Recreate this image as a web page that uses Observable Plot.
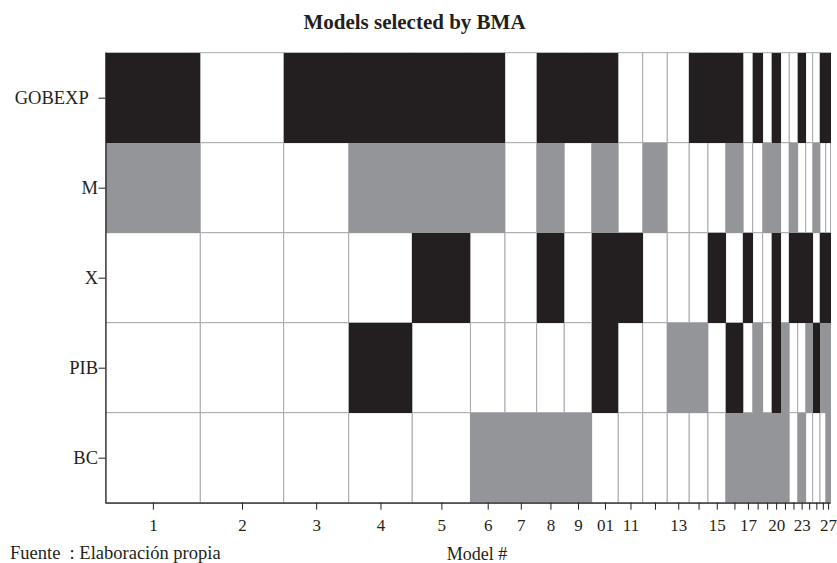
<!DOCTYPE html>
<html>
<head>
<meta charset="utf-8">
<script src="https://cdn.jsdelivr.net/npm/d3@7"></script>
<script src="https://cdn.jsdelivr.net/npm/@observablehq/plot@0.6"></script>
<style>
  html, body { margin: 0; padding: 0; background: #fff; }
  #chart { width: 837px; height: 563px; overflow: hidden; position: relative; }
</style>
</head>
<body>
<div id="chart"></div>
<script>
// Variables (rows, top to bottom)
const variables = ["GOBEXP", "M", "X", "PIB", "BC"];

// Posterior model probabilities (column widths), models 1..27
const pmp = [0.1308, 0.1150, 0.0897, 0.0877, 0.0803, 0.0476, 0.0437, 0.0381, 0.0378,
             0.0367, 0.0337, 0.0339, 0.0303, 0.0258, 0.0244, 0.0243, 0.0130, 0.0138,
             0.0124, 0.0124, 0.0119, 0.0116, 0.0110, 0.0097, 0.0101, 0.0079, 0.0066];

// Coefficient sign per model: 1 = positive, -1 = negative, 0 = not included
const signGOBEXP = [1,0,1,1,1,1,0,1,1,1,0,0,0,1,1,1,0,1,0,1,0,0,1,0,0,1,1];
const signM      = [-1,0,0,-1,-1,-1,0,-1,0,-1,0,-1,0,0,0,-1,0,0,-1,-1,0,-1,0,0,-1,0,0];
const signX      = [0,0,0,0,1,0,0,1,0,1,1,0,0,0,1,0,1,0,0,1,0,1,1,1,0,1,1];
const signPIB    = [0,0,0,1,0,0,0,0,0,1,0,0,-1,-1,0,1,0,-1,0,1,-1,0,0,-1,1,-1,-1];
const signBC     = [0,0,0,0,0,-1,-1,-1,-1,0,0,0,0,0,0,-1,-1,-1,-1,-1,-1,0,-1,0,0,0,-1];

// Tick labels under each model column (as printed)
const modelLabels = ["1","2","3","4","5","6","7","8","9","01","11","","13","","15","","17",
                     "","","20","","","23","","","","27"];

const title = "Models selected by BMA";
const xLabel = "Model #";
const caption = "Fuente\u00a0 : Elaboración propia";

const BLACK = "#231f20", GRAY = "#939598", GRID = "#a7a9ac";

// build table
const signs = [signGOBEXP, signM, signX, signPIB, signBC];
const cum = [0];
pmp.forEach(p => cum.push(cum[cum.length - 1] + p));
const total = cum[cum.length - 1];
const cells = [];
variables.forEach((v, r) => {
  pmp.forEach((p, j) => {
    cells.push({ v, r, model: j + 1, x1: cum[j], x2: cum[j + 1], s: signs[r][j] });
  });
});
const mids = pmp.map((p, j) => (cum[j] + cum[j + 1]) / 2);
const labelAt = new Map(mids.map((m, j) => [m, modelLabels[j]]));
const yTicks = variables.map((v, i) => i + 0.5);

const plot = Plot.plot({
  width: 837,
  height: 563,
  marginLeft: 105.5,
  marginRight: 6.5,
  marginTop: 52.7,
  marginBottom: 60.3,
  style: { fontFamily: "'Liberation Serif', 'Times New Roman', serif", color: BLACK, background: "white" },
  x: { domain: [0, total] },
  y: { domain: [variables.length, 0] },
  marks: [
    Plot.rect(cells, { x1: "x1", x2: "x2", y1: "r", y2: d => d.r + 1, fill: "white", stroke: GRID, strokeWidth: 1 }),
    Plot.rect(cells.filter(d => d.s !== 0), {
      x1: "x1", x2: "x2", y1: "r", y2: d => d.r + 1,
      fill: d => d.s > 0 ? BLACK : GRAY,
      shapeRendering: "crispEdges"
    }),
    Plot.axisY(yTicks, {
      anchor: "left", tickSize: 7, tickPadding: 1, fontSize: 18.5, stroke: BLACK,
      tickFormat: d => (variables[Math.floor(d)] === "GOBEXP" ? "GOBEXP\u00a0\u00a0" : variables[Math.floor(d)]),
      label: null
    }),
    Plot.axisX(mids, {
      anchor: "bottom", tickSize: 7, tickPadding: 9, fontSize: 17, stroke: BLACK,
      tickFormat: d => labelAt.get(d), label: null
    }),
    Plot.ruleX([0], { stroke: BLACK, strokeWidth: 1.2 }),
    Plot.ruleY([variables.length], { stroke: BLACK, strokeWidth: 1.2 })
  ]
});

const svg = d3.select(plot);
svg.append("text")
  .attr("x", 414.5).attr("y", 29)
  .attr("text-anchor", "middle")
  .attr("font-size", 21).attr("font-weight", "bold")
  .attr("fill", BLACK)
  .text(title);
svg.append("text")
  .attr("x", 477).attr("y", 559.5)
  .attr("text-anchor", "middle")
  .attr("font-size", 18)
  .attr("fill", BLACK)
  .text(xLabel);
svg.append("text")
  .attr("x", 10).attr("y", 558.5)
  .attr("text-anchor", "start")
  .attr("font-size", 18.5)
  .attr("fill", BLACK)
  .text(caption);

document.getElementById("chart").appendChild(plot);
</script>
</body>
</html>
